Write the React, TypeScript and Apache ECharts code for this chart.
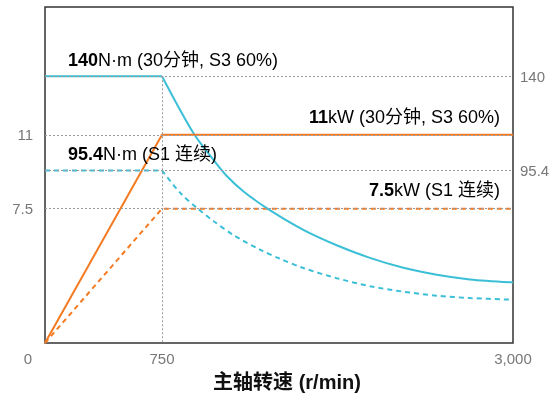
import React, { useEffect, useRef } from "react";
import * as echarts from "echarts";

// x axis (spindle speed, r/min)
const xTicks = [0, 750, 3000];
const xMax = 3000;

// left axis: power (kW)
const powerTicks = [7.5, 11];
const powerMin = 1.13;
const powerMax = 17.06;
const powerS3 = [[0, 1.13], [750, 11], [3000, 11]];
const powerS1 = [[0, 1.13], [750, 7.5], [3000, 7.5]];

// right axis: torque (N·m)
const torqueTicks = [95.4, 140];
const torqueMin = 13.7;
const torqueMax = 172.8;
const torqueS3Flat = [[0, 140], [750, 140]];
const torqueS3Curve = [
  [750, 140], [951, 113.1], [1079, 100.5], [1165, 92.8], [1271, 85.6],
  [1421, 77.6], [1656, 67.3], [1870, 60.0], [2083, 54.0], [2297, 49.3],
  [2511, 46.0], [2724, 43.8], [3000, 42.4],
];
const torqueS1Flat = [[0, 95.4], [750, 95.4]];
const torqueS1Curve = [
  [750, 95.4], [865, 84.9], [983, 77.1], [1079, 71.5], [1207, 64.9],
  [1378, 57.9], [1506, 53.6], [1656, 49.2], [1870, 44.4], [2083, 40.6],
  [2297, 38.0], [2511, 36.1], [2724, 35.0], [3000, 34.2],
];

const xTitle = "主轴转速 (r/min)";
const notes = [
  { bold: "140", rest: "N·m (30分钟, S3 60%)" },
  { bold: "11", rest: "kW (30分钟, S3 60%)" },
  { bold: "95.4", rest: "N·m (S1 连续)" },
  { bold: "7.5", rest: "kW (S1 连续)" },
];

const CYAN = "#3bbfd7";
const ORANGE = "#f47a21";
const FONT = "'Liberation Sans', 'Noto Sans CJK SC', sans-serif";

export default function App() {
  const ref = useRef<HTMLDivElement>(null);
  useEffect(() => {
    const chart = echarts.init(ref.current!, undefined, { renderer: "svg" });
    const guide = { color: "#9a9a9a", type: [2, 2] as any, width: 1 };
    const rich = {
      b: { fontFamily: FONT, fontSize: 18, fontWeight: "bold" as const, color: "#222" },
      r: { fontFamily: FONT, fontSize: 18, color: "#666" },
    };
    const note = (i: number, x: number, y: number, align: string) => ({
      type: "text",
      x,
      y,
      z: 10,
      style: {
        text: `{b|${notes[i].bold}}{r|${notes[i].rest}}`,
        rich,
        align,
        verticalAlign: "middle",
      },
    });
    const tickFont = { fontSize: 15, color: "#777" };
    chart.setOption({
      animation: false,
      textStyle: { fontFamily: FONT },
      grid: {
        left: 45,
        right: 46,
        top: 7,
        bottom: 57,
        show: true,
        borderColor: "#333",
        borderWidth: 1.5,
      },
      xAxis: {
        type: "value",
        min: 0,
        max: xMax,
        axisLine: { show: false },
        axisTick: { show: false },
        splitLine: { show: false },
        axisLabel: {
          customValues: xTicks,
          margin: 8,
          ...tickFont,
          formatter: (v: number) =>
            v === 0 ? "{o|0}" : v.toLocaleString("en-US"),
          rich: { o: { ...tickFont, padding: [0, 34, 0, 0] } },
        },
        name: xTitle,
        nameLocation: "middle",
        nameGap: 29,
        nameTextStyle: {
          fontFamily: FONT,
          fontSize: 20,
          fontWeight: "bold",
          color: "#111",
          padding: [0, 0, 0, 16],
        },
      },
      yAxis: [
        {
          type: "value",
          position: "left",
          min: powerMin,
          max: powerMax,
          axisLine: { show: false },
          axisTick: { show: false },
          splitLine: { show: false },
          axisLabel: { customValues: powerTicks, margin: 12, ...tickFont },
        },
        {
          type: "value",
          position: "right",
          min: torqueMin,
          max: torqueMax,
          axisLine: { show: false },
          axisTick: { show: false },
          splitLine: { show: false },
          axisLabel: { customValues: torqueTicks, margin: 7, ...tickFont },
        },
      ],
      series: [
        {
          type: "line",
          yAxisIndex: 0,
          data: [],
          z: 1,
          markLine: {
            silent: true,
            symbol: ["none", "none"],
            label: { show: false },
            lineStyle: guide,
            data: powerTicks.map((v) => ({ yAxis: v })),
          },
        },
        {
          type: "line",
          yAxisIndex: 1,
          data: [],
          z: 1,
          markLine: {
            silent: true,
            symbol: ["none", "none"],
            label: { show: false },
            lineStyle: guide,
            data: [
              ...torqueTicks.map((v) => ({ yAxis: v })),
              [{ coord: [750, 140] }, { coord: [750, torqueMin] }],
            ],
          },
        },
        {
          type: "line",
          yAxisIndex: 1,
          data: torqueS1Flat,
          z: 3,
          symbol: "none",
          lineStyle: { color: CYAN, width: 2, type: [5, 4] },
        },
        {
          type: "line",
          yAxisIndex: 1,
          data: torqueS1Curve,
          z: 3,
          symbol: "none",
          smooth: 0.3,
          lineStyle: { color: CYAN, width: 2, type: [5, 4] },
        },
        {
          type: "line",
          yAxisIndex: 0,
          data: powerS1,
          z: 3,
          symbol: "none",
          lineStyle: { color: ORANGE, width: 2, type: [5, 4] },
        },
        {
          type: "line",
          yAxisIndex: 1,
          data: torqueS3Flat,
          z: 4,
          symbol: "none",
          lineStyle: { color: CYAN, width: 2 },
        },
        {
          type: "line",
          yAxisIndex: 1,
          data: torqueS3Curve,
          z: 4,
          symbol: "none",
          smooth: 0.3,
          lineStyle: { color: CYAN, width: 2 },
        },
        {
          type: "line",
          yAxisIndex: 0,
          data: powerS3,
          z: 4,
          symbol: "none",
          lineStyle: { color: ORANGE, width: 2 },
        },
      ],
      graphic: [
        note(0, 68, 60, "left"),
        note(1, 500, 117, "right"),
        note(2, 68, 154, "left"),
        note(3, 500, 190, "right"),
      ],
    });
    return () => chart.dispose();
  }, []);
  return (
    <div
      ref={ref}
      style={{ position: "fixed", left: 0, top: 0, width: 559, height: 400 }}
    />
  );
}
